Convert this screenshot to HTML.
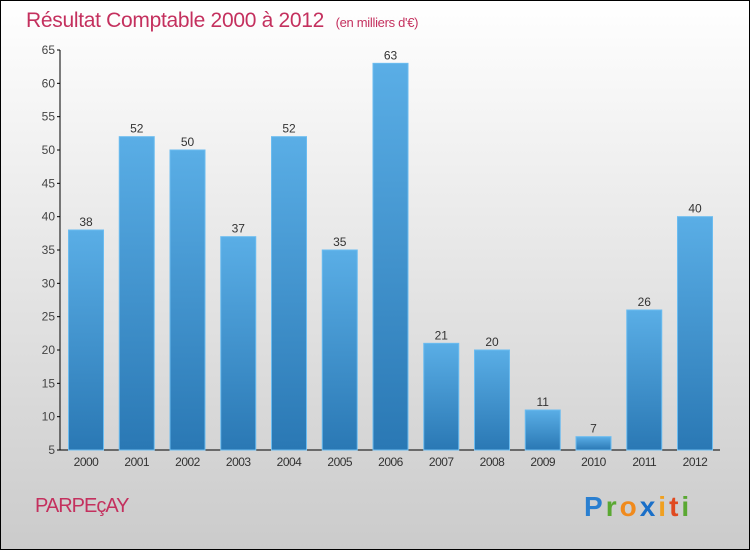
<!DOCTYPE html>
<html><head><meta charset="utf-8"><style>
html,body{margin:0;padding:0;}
body{width:750px;height:550px;overflow:hidden;font-family:"Liberation Sans",sans-serif;}
</style></head><body>
<svg id="chart" width="750" height="550" xmlns="http://www.w3.org/2000/svg">
<defs>
<linearGradient id="bg" x1="0" y1="0" x2="0" y2="1"><stop offset="0" stop-color="#ffffff"/><stop offset="1" stop-color="#cbcbcb"/></linearGradient>
<linearGradient id="bar" x1="0" y1="0" x2="0" y2="1"><stop offset="0" stop-color="#5aaee6"/><stop offset="1" stop-color="#2a78b4"/></linearGradient>
</defs>
<rect x="0.5" y="0.5" width="749" height="549" fill="url(#bg)" stroke="#000" stroke-width="1"/>
<text x="26" y="27" font-size="21" fill="#c4305e" letter-spacing="-0.3">Résultat Comptable 2000 à 2012 <tspan font-size="13" dx="6">(en milliers d'€)</tspan></text>
<g id="axes"></g>
<g id="bars"></g>
<text x="35" y="512" font-size="20" fill="#c4305e" letter-spacing="-1">PARPEçAY</text>
<g font-size="28" font-weight="bold" font-family="'Liberation Sans',sans-serif">
<text x="584" y="516" letter-spacing="3"><tspan fill="#2a7fd0">P</tspan><tspan fill="#5aa832">r</tspan><tspan fill="#f08a1c">o</tspan><tspan fill="#1a6fc8">x</tspan><tspan fill="#f0a020">i</tspan><tspan fill="#e04a20">t</tspan><tspan fill="#5aa832">i</tspan></text>
</g>
</svg>
<script>
const years=["2000","2001","2002","2003","2004","2005","2006","2007","2008","2009","2010","2011","2012"];
const values=[38,52,50,37,52,35,63,21,20,11,7,26,40];
const yTicks=[5,10,15,20,25,30,35,40,45,50,55,60,65];
const NS="http://www.w3.org/2000/svg";
const y0=450,y1=50,vmin=5,vmax=65;
function y(v){return y0-(v-vmin)*(y0-y1)/(vmax-vmin);}
function xc(i){return 86+i*50.75;}
function mk(t,a,p){const e=document.createElementNS(NS,t);for(const k in a)e.setAttribute(k,a[k]);p.appendChild(e);return e;}
const ax=document.getElementById('axes'),bg=document.getElementById('bars');
const yl=mk('line',{x1:60,y1:y1,x2:60,y2:y0,stroke:'#000'},ax);


const xl=mk('line',{x1:60,y1:y0,x2:720,y2:y0,stroke:'#000'},ax);


yTicks.forEach(v=>{
 mk('line',{x1:57,x2:60,y1:y(v),y2:y(v),stroke:'#000'},ax);
 const t=mk('text',{x:55,y:y(v)+4,'text-anchor':'end','font-size':12,fill:'#444'},ax);
 t.textContent=v;
 
 
});
years.forEach((yr,i)=>{
 const v=values[i];
 const r=mk('rect',{x:xc(i)-17.5,y:y(v),width:35,height:y0-y(v),fill:'url(#bar)',stroke:'#6bbcf0','stroke-width':1},bg);
 
 
 const l=mk('text',{x:xc(i),y:y(v)-4,'text-anchor':'middle','font-size':12,fill:'#333'},bg);
 l.textContent=v;
 
 
 const xt=mk('text',{x:xc(i),y:466,'text-anchor':'middle','font-size':12,fill:'#333','letter-spacing':'-0.5'},ax);
 xt.textContent=yr;
 
 
});
</script>
</body></html>
